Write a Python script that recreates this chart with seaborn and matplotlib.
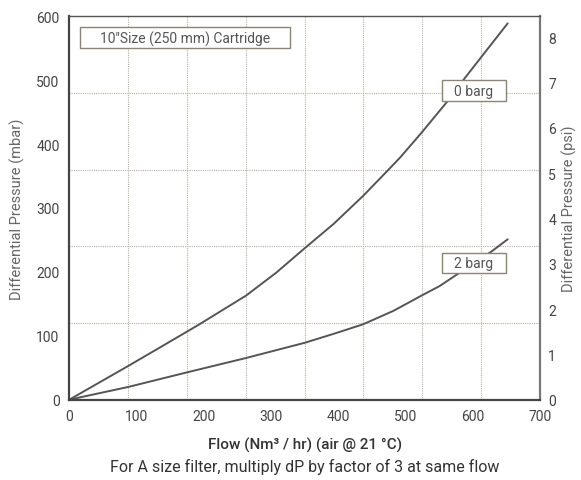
import matplotlib
matplotlib.use("Agg")
import matplotlib.pyplot as plt
from matplotlib.patches import Rectangle
import numpy as np
import pandas as pd
import seaborn as sns

# flow (Nm3/hr) vs differential pressure (mbar)
flow_0barg = [0, 88, 132, 192, 263, 308, 350, 393, 437, 472, 492, 524, 564, 588, 611, 652]
dp_0barg = [0, 53, 80, 117, 163, 199, 237, 275, 319, 357, 379, 418, 469, 503, 534, 589]
flow_2barg = [0, 88, 176, 262, 350, 393, 437, 482, 524, 551, 578, 628, 652]
dp_2barg = [0, 20, 43, 65, 89, 103, 118, 139, 163, 178, 197, 232, 251]

x_ticks = [0, 100, 200, 300, 400, 500, 600, 700]
y_ticks = [0, 100, 200, 300, 400, 500, 600]
psi_ticks = [0, 1, 2, 3, 4, 5, 6, 7, 8]

df = pd.concat([
    pd.DataFrame({"flow": flow_0barg, "dp": dp_0barg, "pressure": "0 barg"}),
    pd.DataFrame({"flow": flow_2barg, "dp": dp_2barg, "pressure": "2 barg"}),
])

sns.set_theme(style="white")
plt.rcParams["font.family"] = ["Roboto", "DejaVu Sans"]

line_col = "#555555"
text_col = "#555555"
grid_col = "#b8b0a2"
box_col = "#8c8475"

fig = plt.figure(figsize=(5.81, 4.81), dpi=100)
ax = fig.add_axes([0.1193, 0.167, 0.8101, 0.797])

sns.lineplot(data=df, x="flow", y="dp", units="pressure", estimator=None,
             color=line_col, linewidth=1.4, ax=ax, legend=False)

ax.set_xlim(0, 700)
ax.set_ylim(0, 600)
ax.set_xticks(x_ticks)
ax.set_yticks(y_ticks)

# dotted grid on its own divisions (8 across, 5 up)
for gx in np.arange(87.5, 700, 87.5):
    ax.axvline(gx, color=grid_col, linestyle=(0, (1, 1)), linewidth=0.8, zorder=0)
for gy in [120, 240, 360, 480]:
    ax.axhline(gy, color=grid_col, linestyle=(0, (1, 1)), linewidth=0.8, zorder=0)

ax.tick_params(axis="both", length=0, labelsize=10, colors="#444444", pad=7)
ax.set_xlabel("")
ax.set_ylabel("Differential Pressure (mbar)", fontsize=10.5, color="#666666", labelpad=8)

for side in ["left", "bottom"]:
    ax.spines[side].set_color("#444444")
    ax.spines[side].set_linewidth(1.6)
ax.spines["top"].set_color("#555555")
ax.spines["top"].set_linewidth(1.0)
ax.spines["right"].set_color("#777777")
ax.spines["right"].set_linewidth(1.6)

ax2 = ax.twinx()
ax2.set_ylim(0, 8.46)
ax2.set_yticks(psi_ticks)
ax2.tick_params(axis="y", length=0, labelsize=10, colors="#444444", pad=6)
ax2.set_ylabel("Differential Pressure (psi)", fontsize=10.5, color="#666666",
               rotation=90, labelpad=4)
for s in ax2.spines.values():
    s.set_visible(False)

# label boxes
boxes = [
    ((0.0227, 0.9165), 0.4463, 0.0545, "10\u2033Size (250 mm) Cartridge"),
    ((0.792, 0.778), 0.135, 0.056, "0 barg"),
    ((0.792, 0.3297), 0.135, 0.0537, "2 barg"),
]
for (bx, by), bw, bh, txt in boxes:
    ax.add_patch(Rectangle((bx, by), bw, bh, transform=ax.transAxes,
                           facecolor="white", edgecolor=box_col, linewidth=1.0, zorder=5))
    ax.text(bx + bw / 2, by + bh / 2, txt, transform=ax.transAxes, ha="center",
            va="center", fontsize=10, color=text_col, zorder=6)

fig.text(0.5243, 1 - 445 / 481, "Flow (Nm\u00b3 / hr) (air @ 21 \u00b0C)", ha="center",
         va="center", fontsize=11, fontweight="medium", color="#333333")
fig.text(0.5243, 1 - 467 / 481, "For A size filter, multiply dP by factor of 3 at same flow",
         ha="center", va="center", fontsize=11.5, color="#333333")

fig.savefig("out.png", dpi=100)
